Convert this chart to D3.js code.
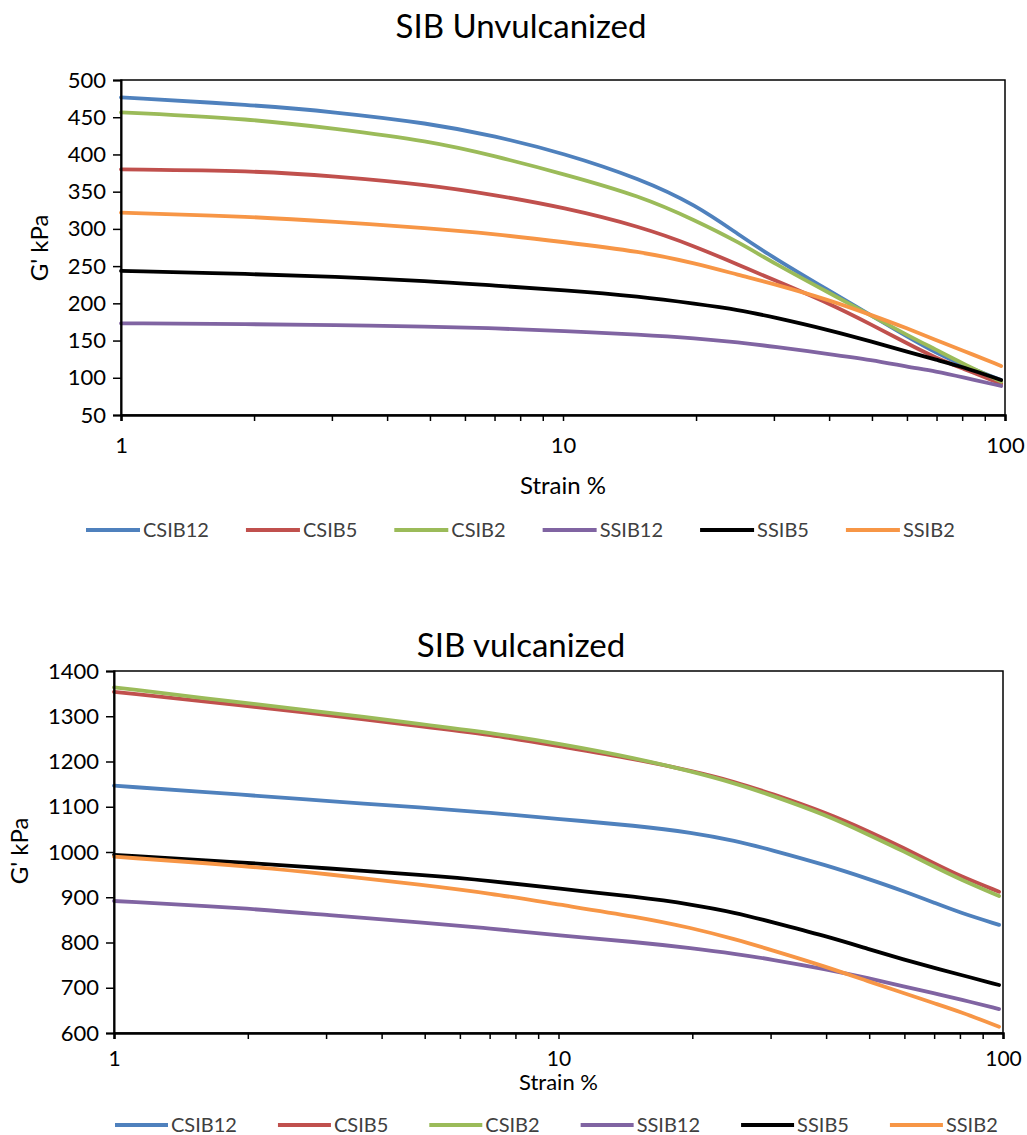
<!DOCTYPE html>
<html>
<head>
<meta charset="utf-8">
<script src="https://cdn.jsdelivr.net/npm/d3@7"></script>
<style>
  body { margin: 0; background: #fff; }
  svg { font-family: Lato, "Open Sans", sans-serif; }
</style>
</head>
<body>
<svg id="chart" width="1027" height="1135"></svg>
<script>
// strain % (x, log scale)
const strain = [1, 2, 3, 5, 7, 10, 15, 20, 25, 30, 40, 50, 60, 70, 80, 98];
const seriesNames = ['CSIB12', 'CSIB5', 'CSIB2', 'SSIB12', 'SSIB5', 'SSIB2'];
const seriesColors = ['#4F81BD', '#C0504D', '#9BBB59', '#8064A2', '#000000', '#F79646'];
const xTickLabels = [1, 10, 100];

// G' kPa, unvulcanized
const unvCSIB12 = [476.7, 466.4, 457.4, 441.8, 424.8, 402, 367, 332, 292, 261, 217, 183, 155.3, 133, 117, 97];
const unvCSIB5  = [380, 378, 371, 359, 345.6, 329, 303, 276, 251.5, 231.4, 200, 171, 146.3, 126.2, 112.8, 92];
const unvCSIB2  = [456.6, 447.5, 435.1, 418, 398, 374, 344, 311, 282, 254, 214, 183, 157.5, 137.4, 119.5, 94.8];
const unvSSIB12 = [173.2, 172, 171, 168.7, 166.5, 163, 158, 153, 147.5, 141.8, 131.9, 124, 115, 108.5, 100.9, 89];
const unvSSIB5  = [243.5, 239.4, 235.8, 230, 223.7, 218, 209, 199.2, 191.2, 181.3, 164.2, 148.5, 135, 124, 115, 97];
const unvSSIB2  = [321.8, 316.4, 309.7, 300.8, 293, 282.5, 269.4, 253.8, 238, 226, 204.5, 184, 166.5, 150.4, 137, 115.9];
const unvTicks  = [50, 100, 150, 200, 250, 300, 350, 400, 450, 500];

// G' kPa, vulcanized
const vulCSIB12 = [1146.5, 1126, 1112.7, 1097.9, 1086.9, 1073, 1058, 1043, 1025, 1005, 971, 940, 913, 888, 866, 839];
const vulCSIB5  = [1354, 1322.7, 1302.8, 1277, 1260, 1234, 1204.8, 1179, 1155, 1129.7, 1086.9, 1045, 1008, 975, 946.9, 912.2];
const vulCSIB2  = [1364, 1328.6, 1308.7, 1282, 1263.7, 1240, 1207, 1177.5, 1151.7, 1126, 1081.8, 1037.6, 1000.7, 967.5, 939.7, 902.8];
const vulSSIB12 = [891.7, 875.6, 860.8, 843.8, 831.4, 815.5, 801, 787.2, 775, 762.9, 740.8, 720.9, 702.4, 687.7, 674.5, 652.9];
const vulSSIB5  = [993.4, 976.4, 964, 948.8, 936.6, 919, 901, 884, 866, 846, 814, 785, 762, 744, 729, 706];
const vulSSIB2  = [989.6, 969, 951.4, 926.9, 908.8, 884, 857, 832, 807, 784, 746.6, 713.4, 687.7, 665.6, 647.1, 614];
const vulTicks  = [600, 700, 800, 900, 1000, 1100, 1200, 1300, 1400];

const svg = d3.select('#chart');

function drawChart(cfg) {
  const g = svg.append('g');
  const x = d3.scaleLog().domain([1, 100]).range([cfg.left, cfg.right]);
  const y = d3.scaleLinear().domain(d3.extent(cfg.yTicks)).range([cfg.bottom, cfg.top]);

  // title
  g.append('text').attr('x', 521).attr('y', cfg.titleY)
    .attr('text-anchor', 'middle').attr('font-size', 33).attr('fill', '#000')
    .text(cfg.title);

  // lines (smoothed like excel)
  const line = d3.line()
    .x((d, i) => x(strain[i]))
    .y(d => y(d))
    .curve(d3.curveBasis);
  cfg.series.forEach((vals, k) => {
    g.append('path').datum(vals)
      .attr('d', line)
      .attr('fill', 'none')
      .attr('stroke', seriesColors[k])
      .attr('stroke-width', 3.8)
      .attr('stroke-linecap', 'round');
  });

  // frame
  g.append('rect')
    .attr('x', cfg.left).attr('y', cfg.top)
    .attr('width', cfg.right - cfg.left).attr('height', cfg.bottom - cfg.top)
    .attr('fill', 'none').attr('stroke', '#000').attr('stroke-width', 1.5);

  // y axis
  const yAxis = g.append('g').attr('transform', `translate(${cfg.left},0)`)
    .call(d3.axisLeft(y).tickValues(cfg.yTicks).tickSize(8).tickPadding(7)
      .tickFormat(d3.format('d')));
  yAxis.select('.domain').attr('stroke-width', 2);
  yAxis.selectAll('.tick line').attr('stroke-width', 1.5);
  yAxis.selectAll('text').attr('font-size', 22).attr('font-family', 'Lato').attr('fill', '#000');

  // x axis: minor ticks at every 1..9 per decade, labels at decades
  const minor = [];
  for (let d = 1; d < 100; d *= 10) for (let m = 1; m < 10; m++) minor.push(d * m);
  minor.push(100);
  const xAxis = g.append('g').attr('transform', `translate(0,${cfg.bottom})`)
    .call(d3.axisBottom(x).tickValues(minor).tickSize(6)
      .tickFormat(d => xTickLabels.includes(d) ? d : ''));
  xAxis.select('.domain').attr('stroke-width', 2.5);
  xAxis.selectAll('.tick line').attr('stroke-width', 1.5);
  xAxis.selectAll('text').attr('font-size', cfg.xLabelSize).attr('font-family', 'Lato')
    .attr('fill', '#000').attr('dy', null).attr('y', cfg.xLabelY - cfg.bottom);

  // axis titles
  g.append('text').attr('x', (cfg.left + cfg.right) / 2).attr('y', cfg.xTitleY)
    .attr('text-anchor', 'middle').attr('font-size', cfg.xTitleSize).text('Strain %');
  g.append('text')
    .attr('transform', `translate(${cfg.yTitleX},${cfg.yTitleY}) rotate(-90)`)
    .attr('text-anchor', 'middle').attr('dominant-baseline', 'central')
    .attr('font-size', 24).text("G' kPa");

  // legend
  let lx = cfg.legendX;
  seriesNames.forEach((name, k) => {
    g.append('line').attr('x1', lx).attr('x2', lx + cfg.legendLine)
      .attr('y1', cfg.legendY).attr('y2', cfg.legendY)
      .attr('stroke', seriesColors[k]).attr('stroke-width', 3.8);
    const t = g.append('text').attr('x', lx + cfg.legendLine + 3).attr('y', cfg.legendY + 7)
      .attr('font-size', 20).attr('fill', '#404040')
      .text(name);
    lx += cfg.legendLine + 3 + t.node().getComputedTextLength() + cfg.legendGap;
  });
}

drawChart({
  title: 'SIB Unvulcanized', titleY: 38,
  left: 121, right: 1005, top: 80, bottom: 415,
  yTicks: unvTicks,
  series: [unvCSIB12, unvCSIB5, unvCSIB2, unvSSIB12, unvSSIB5, unvSSIB2],
  xLabelY: 453, xLabelSize: 22, xTitleY: 494, xTitleSize: 24,
  yTitleX: 38, yTitleY: 248,
  legendX: 86, legendY: 530, legendLine: 54, legendGap: 37
});

drawChart({
  title: 'SIB vulcanized', titleY: 657,
  left: 114, right: 1003, top: 671, bottom: 1033,
  yTicks: vulTicks,
  series: [vulCSIB12, vulCSIB5, vulCSIB2, vulSSIB12, vulSSIB5, vulSSIB2],
  xLabelY: 1066, xLabelSize: 21, xTitleY: 1090, xTitleSize: 22,
  yTitleX: 18, yTitleY: 851,
  legendX: 115, legendY: 1125, legendLine: 53, legendGap: 41
});
</script>
</body>
</html>
